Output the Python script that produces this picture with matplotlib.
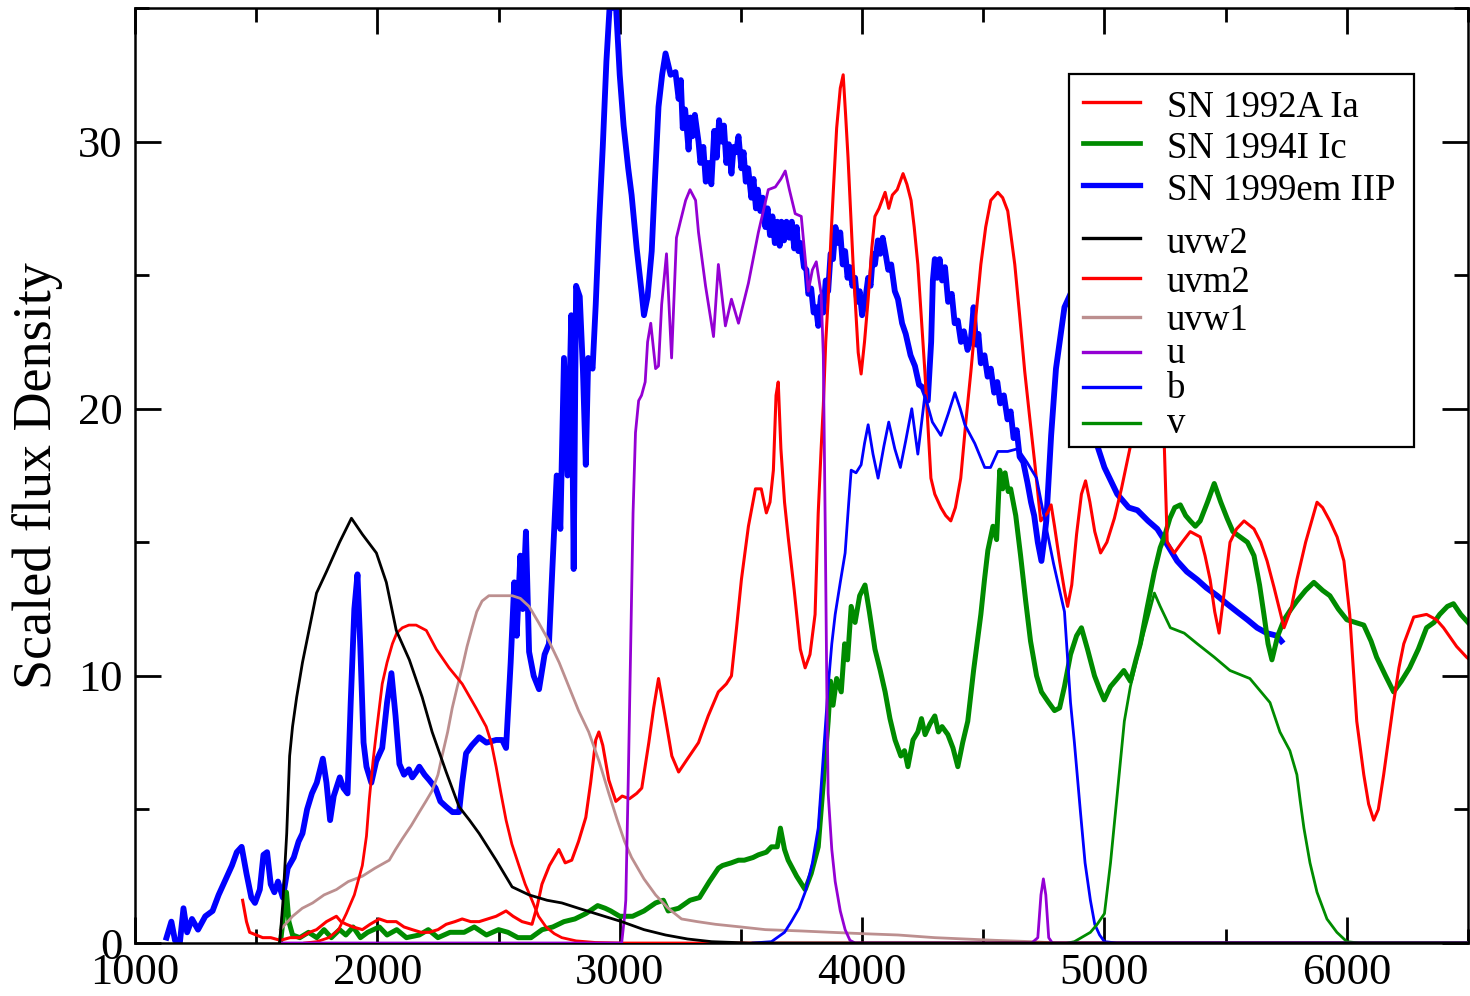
import matplotlib
matplotlib.use("Agg")
import matplotlib.pyplot as plt
from matplotlib.patches import Rectangle
from matplotlib.lines import Line2D

plt.rcParams['font.family'] = ['Liberation Serif', 'DejaVu Serif']

# ---------------- spectra (wavelength in Angstrom, scaled flux) ----------------
sn92a_wave = [1444, 1460, 1473, 1500, 1527, 1560, 1600, 1640, 1680, 1720, 1749, 1790, 1831, 1850, 1872,
              1900, 1938, 1970, 2008, 2040, 2078, 2110, 2144, 2180, 2214, 2250, 2284, 2320, 2350, 2385,
              2420, 2455, 2490, 2531, 2560, 2597, 2638, 2660, 2679, 2710, 2749, 2775, 2802, 2830, 2860,
              2880, 2901, 2914, 2930, 2955, 2984, 3010, 3040, 3070, 3091, 3120, 3140, 3160, 3185, 3215,
              3243, 3280, 3325, 3365, 3407, 3440, 3461, 3482, 3502, 3531, 3560, 3584, 3605, 3620, 3634,
              3645, 3654, 3665, 3680, 3695, 3720, 3745, 3765, 3785, 3806, 3819, 3831, 3840, 3850, 3860,
              3872, 3881, 3895, 3910, 3922, 3932, 3942, 3963, 3984, 3996, 4010, 4025, 4040, 4053, 4070,
              4095, 4110, 4125, 4145, 4169, 4185, 4202, 4215, 4230, 4259, 4284, 4300, 4325, 4345, 4366,
              4385, 4407, 4428, 4449, 4470, 4490, 4510, 4531, 4560, 4580, 4601, 4630, 4650, 4671, 4690,
              4712, 4737, 4765, 4780, 4794, 4815, 4835, 4848, 4865, 4885, 4905, 4922, 4940, 4960, 4984,
              5010, 5041, 5070, 5107, 5140, 5180, 5220, 5247, 5259, 5288, 5320, 5354, 5395, 5415, 5436,
              5455, 5473, 5495, 5518, 5545, 5576, 5617, 5645, 5671, 5700, 5741, 5770, 5794, 5830, 5877,
              5900, 5930, 5960, 5988, 6012, 6025, 6041, 6070, 6090, 6111, 6130, 6152, 6175, 6193, 6215,
              6235, 6276, 6329, 6370, 6399, 6430, 6453, 6494, 6520]
sn92a_flux = [1.6, 0.8, 0.4, 0.3, 0.2, 0.2, 0.1, 0.2, 0.2, 0.4, 0.5, 0.8, 1.0, 0.8, 0.7,
              0.6, 0.5, 0.7, 0.9, 0.8, 0.8, 0.6, 0.5, 0.4, 0.4, 0.5, 0.7, 0.8, 0.9, 0.8,
              0.8, 0.9, 1.0, 1.2, 1.0, 0.8, 0.7, 1.4, 2.2, 2.9, 3.5, 3.0, 3.1, 3.8, 4.7,
              6.0, 7.6, 7.9, 7.4, 6.1, 5.3, 5.5, 5.4, 5.6, 5.8, 7.5, 8.8, 9.9, 8.6, 7.0,
              6.4, 6.9, 7.5, 8.5, 9.4, 9.7, 10.0, 11.8, 13.6, 15.6, 17.0, 17.0, 16.1, 16.5, 17.7,
              20.5, 21.0, 18.5, 16.5, 15.2, 13.2, 11.0, 10.3, 10.8, 12.3, 16.1, 18.5, 20.1, 22.5, 24.1,
              26.5, 28.1, 30.5, 32.0, 32.5, 31.0, 29.4, 25.4, 22.1, 21.3, 22.5, 24.1, 26.0, 27.2, 27.5,
              28.1, 27.5, 28.0, 28.2, 28.8, 28.4, 27.8, 26.8, 25.4, 21.4, 17.4, 16.8, 16.3, 16.0, 15.8,
              16.3, 17.4, 19.5, 21.4, 23.5, 25.4, 26.8, 27.8, 28.1, 27.9, 27.4, 25.4, 23.5, 21.4, 19.8,
              18.0, 15.8, 16.1, 16.4, 15.6, 14.3, 13.2, 12.6, 13.4, 15.3, 16.8, 17.3, 16.5, 15.4, 14.6,
              15.0, 15.9, 17.0, 18.6, 20.0, 20.5, 20.0, 18.6, 15.0, 14.6, 15.0, 15.4, 15.2, 14.5, 13.6,
              12.4, 11.6, 13.2, 15.0, 15.5, 15.8, 15.5, 15.0, 14.3, 13.3, 11.8, 12.5, 13.6, 15.0, 16.5,
              16.3, 15.8, 15.2, 14.3, 12.3, 10.5, 8.3, 6.3, 5.2, 4.6, 5.0, 6.3, 7.8, 9.0, 10.3,
              11.2, 12.2, 12.3, 12.1, 11.8, 11.4, 11.1, 10.7, 10.5]

sn94i_wave = [1600, 1615, 1625, 1635, 1650, 1680, 1716, 1750, 1780, 1810, 1844, 1870, 1900, 1930, 1960,
              2008, 2040, 2080, 2120, 2173, 2210, 2250, 2300, 2358, 2400, 2450, 2500, 2539, 2580, 2634,
              2680, 2724, 2770, 2815, 2860, 2909, 2940, 2963, 3000, 3053, 3100, 3148, 3180, 3200, 3243,
              3290, 3329, 3370, 3407, 3424, 3460, 3490, 3514, 3550, 3572, 3605, 3626, 3650, 3663, 3680,
              3695, 3730, 3765, 3790, 3819, 3840, 3860, 3870, 3880, 3895, 3914, 3928, 3940, 3955, 3971,
              3990, 4012, 4030, 4053, 4075, 4095, 4115, 4136, 4160, 4175, 4189, 4210, 4230, 4245, 4260,
              4280, 4300, 4315, 4330, 4354, 4375, 4395, 4415, 4436, 4460, 4490, 4505, 4519, 4540, 4555,
              4568, 4580, 4590, 4603, 4613, 4634, 4654, 4675, 4695, 4720, 4740, 4770, 4794,
              4815, 4835, 4860, 4885, 4905, 4930, 4959, 4980, 4999, 5025, 5053, 5080, 5107, 5130, 5148,
              5175, 5206, 5230, 5247, 5270, 5290, 5313, 5335, 5354, 5375, 5395, 5425, 5453, 5480, 5506,
              5530, 5560, 5590, 5617, 5640, 5658, 5675, 5691, 5715, 5741, 5770, 5794, 5830, 5864, 5900,
              5930, 5965, 6000, 6035, 6070, 6100, 6123, 6160, 6193, 6225, 6259, 6295, 6329, 6360, 6383,
              6415, 6440, 6470, 6500]
sn94i_flux = [0.0, 1.2, 1.9, 0.8, 0.3, 0.2, 0.4, 0.2, 0.5, 0.2, 0.5, 0.3, 0.6, 0.2, 0.4,
              0.6, 0.3, 0.5, 0.2, 0.3, 0.5, 0.2, 0.4, 0.4, 0.6, 0.3, 0.5, 0.4, 0.2, 0.2,
              0.5, 0.6, 0.8, 0.9, 1.1, 1.4, 1.3, 1.2, 1.0, 1.0, 1.2, 1.5, 1.6, 1.2, 1.3,
              1.6, 1.7, 2.3, 2.8, 2.9, 3.0, 3.1, 3.1, 3.2, 3.3, 3.4, 3.6, 3.6, 4.3, 3.5,
              3.1, 2.5, 2.0, 2.6, 3.6, 6.0, 8.3, 9.8, 8.9, 9.9, 9.4, 11.2, 10.6, 12.6, 12.0,
              13.0, 13.4, 12.4, 11.0, 10.2, 9.4, 8.4, 7.6, 7.0, 7.2, 6.6, 7.6, 7.9, 8.4, 7.8,
              8.2, 8.5, 7.9, 8.1, 7.8, 7.3, 6.6, 7.5, 8.3, 10.2, 12.3, 13.6, 14.7, 15.6, 15.1,
              17.7, 17.0, 17.6, 16.9, 17.0, 16.0, 14.5, 12.8, 11.3, 10.0, 9.4, 9.0, 8.7,
              8.8, 9.6, 10.8, 11.5, 11.8, 11.0, 10.0, 9.5, 9.1, 9.6, 9.9, 10.2, 9.8, 10.6, 11.2,
              12.5, 13.9, 14.8, 15.2, 15.9, 16.3, 16.4, 16.0, 15.8, 15.6, 15.8, 16.5, 17.2, 16.5, 15.9,
              15.4, 15.2, 15.0, 14.5, 13.4, 12.3, 11.2, 10.6, 11.5, 12.1, 12.5, 12.8, 13.2, 13.5, 13.2,
              13.0, 12.5, 12.1, 12.0, 11.9, 11.3, 10.7, 10.0, 9.4, 9.8, 10.3, 11.0, 11.8, 12.0, 12.3,
              12.6, 12.7, 12.3, 12.0]

sn99em_wave = [1130, 1150, 1165, 1185, 1200, 1215, 1235, 1260, 1290, 1320, 1345, 1370, 1400, 1420, 1440,
               1460, 1480, 1495, 1515, 1530, 1545, 1560, 1575, 1590, 1610, 1630, 1655, 1675, 1691, 1710,
               1730, 1750, 1775, 1790, 1805, 1820, 1845, 1860, 1877, 1890, 1905, 1918, 1930, 1943, 1955,
               1975, 1995, 2020, 2040, 2058, 2075, 2091, 2110, 2130, 2144, 2160, 2173, 2195, 2214, 2240,
               2260, 2284, 2310, 2337, 2350, 2366, 2390, 2420, 2450, 2490, 2515, 2531, 2550, 2565, 2575,
               2590, 2600, 2613, 2626, 2645, 2667, 2690, 2708, 2722, 2740, 2755, 2770, 2785, 2800, 2810,
               2820, 2835, 2848, 2860, 2870, 2888, 2901, 2915, 2930, 2945, 2958, 2985, 3000, 3016, 3035,
               3049, 3070, 3091, 3100, 3115, 3132, 3145, 3160, 3175, 3189, 3210, 3230,
               3243, 3252, 3260, 3270, 3284, 3292, 3300, 3310, 3325, 3333, 3345, 3355, 3366, 3378, 3390,
               3400, 3410, 3420, 3430, 3440, 3450, 3461, 3470, 3480, 3490, 3502, 3511, 3520, 3530, 3543,
               3552, 3562, 3570, 3580, 3590, 3601, 3610, 3620, 3630, 3640, 3650, 3660, 3667, 3678, 3688,
               3700, 3710, 3720, 3730, 3737, 3748, 3760, 3770, 3778, 3790, 3800, 3810, 3819, 3830, 3840,
               3850, 3860, 3870, 3880, 3890, 3901, 3910, 3920, 3930, 3940, 3950, 3960, 3971, 3980, 3990,
               4000, 4012, 4025, 4035, 4045, 4053, 4065, 4075, 4085, 4095, 4108, 4120, 4135, 4148, 4165,
               4180, 4200, 4218, 4235, 4250, 4271, 4285, 4292, 4300, 4310, 4320, 4330, 4342, 4355, 4370,
               4382, 4395, 4408, 4420, 4435, 4449, 4460, 4470, 4480, 4490, 4505, 4518, 4531, 4545, 4558,
               4570, 4585, 4600, 4613, 4625, 4638, 4650, 4665, 4683, 4697, 4710, 4725, 4740, 4750, 4760,
               4780, 4800, 4835, 4870, 4910, 4945, 4971, 5000, 5053, 5100, 5136, 5180, 5218, 5260, 5300,
               5340, 5383, 5420, 5465, 5505, 5547, 5590, 5630, 5670, 5712, 5730]
sn99em_flux = [0.2, 0.8, 0.1, 0.0, 1.3, 0.4, 0.9, 0.5, 1.0, 1.2, 1.8, 2.3, 2.9, 3.4, 3.6,
               2.6, 1.7, 1.5, 2.0, 3.3, 3.4, 2.2, 1.9, 2.3, 1.7, 2.8, 3.2, 3.8, 4.1, 5.0,
               5.6, 6.0, 6.9, 6.0, 4.6, 5.5, 6.2, 5.8, 5.6, 9.0, 12.5, 13.8, 11.0, 7.5, 6.6,
               6.0, 6.8, 7.3, 9.0, 10.1, 8.5, 6.7, 6.3, 6.5, 6.2, 6.4, 6.6, 6.3, 6.1, 5.8,
               5.3, 5.1, 4.9, 4.9, 6.0, 7.1, 7.4, 7.7, 7.5, 7.6, 7.6, 7.3, 10.5, 13.5, 11.5,
               14.5, 12.5, 15.4, 10.9, 10.0, 9.5, 10.8, 11.2, 14.0, 17.5, 15.5, 21.9, 17.5, 23.5, 14.0,
               24.6, 24.2, 21.5, 17.9, 21.9, 21.5, 23.9, 27.0, 29.8, 33.0, 35.0, 35.0, 32.5, 30.6, 29.0,
               28.0, 26.0, 24.3, 23.5, 24.2, 25.9, 28.5, 31.3, 32.5, 33.3, 32.5, 32.6,
               31.6, 32.3, 30.5, 31.2, 29.7, 30.9, 30.2, 31.0, 30.0, 29.2, 29.8, 28.5, 29.2, 28.4, 30.4,
               29.4, 30.8, 30.0, 30.6, 29.2, 29.9, 28.8, 29.8, 29.6, 30.2, 29.0, 29.6, 28.5, 29.0, 27.9,
               28.6, 27.5, 28.2, 27.4, 27.9, 26.8, 27.5, 26.5, 27.2, 26.2, 27.0, 26.1, 27.0, 26.3, 27.0,
               26.4, 27.0, 26.0, 26.8, 25.9, 26.2, 25.3, 25.2, 24.3, 24.5, 23.6, 23.8, 23.1, 24.2, 23.6,
               24.8, 24.4, 25.8, 25.6, 26.8, 26.2, 26.6, 25.4, 25.9, 24.9, 25.3, 24.6, 24.9, 24.0, 24.4,
               23.5, 24.0, 24.9, 24.6, 25.8, 25.4, 26.3, 25.8, 26.4, 25.9, 25.2, 25.4, 24.4, 24.1, 23.2,
               22.8, 22.0, 21.6, 20.9, 20.8, 20.3, 22.5, 24.8, 25.6, 24.9, 25.6, 24.8, 25.3, 24.0, 24.3,
               23.2, 23.3, 22.5, 22.9, 22.2, 22.6, 23.8, 22.4, 22.8, 21.7, 22.0, 21.2, 21.5, 20.6, 21.0,
               20.2, 20.5, 19.6, 19.9, 18.9, 19.2, 18.2, 18.0, 17.2, 16.5, 16.0, 15.0, 14.3, 15.0, 15.8,
               19.0, 21.5, 23.8, 24.5, 22.0, 19.8, 18.6, 17.8, 16.8, 16.3, 16.2, 15.8, 15.5, 14.9, 14.3,
               13.9, 13.6, 13.3, 13.0, 12.7, 12.4, 12.1, 11.8, 11.6, 11.5, 11.3]

# ---------------- UVOT / optical filter curves ----------------
uvw2_wave = [1597, 1610, 1626, 1638, 1650, 1667, 1691, 1720, 1749, 1790, 1844, 1893, 1938, 1996, 2037,
             2078, 2132, 2185, 2226, 2284, 2337, 2380, 2420, 2490, 2556, 2626, 2700, 2761, 2830, 2901,
             3008, 3100, 3189, 3280, 3379, 3531, 6600]
uvw2_resp = [0.0, 1.5, 4.1, 7.0, 8.1, 9.2, 10.5, 11.8, 13.1, 13.9, 15.0, 15.9, 15.3, 14.6, 13.5,
             11.7, 10.6, 9.2, 7.9, 6.4, 5.1, 4.6, 4.1, 3.1, 2.1, 1.8, 1.6, 1.5, 1.3, 1.1,
             0.8, 0.5, 0.3, 0.15, 0.05, 0.0, 0.0]

uvm2_wave = [1700, 1750, 1800, 1840, 1872, 1905, 1938, 1955, 1967, 1982, 1996, 2008, 2020, 2040, 2062,
             2080, 2103, 2130, 2160, 2202, 2243, 2296, 2350, 2407, 2449, 2470, 2490, 2510, 2531, 2555,
             2584, 2610, 2638, 2665, 2696, 2730, 2761, 2820, 2900, 3000, 6600]
uvm2_resp = [0.0, 0.05, 0.2, 0.5, 1.1, 1.8, 2.9, 4.0, 5.4, 6.8, 7.9, 8.8, 9.7, 10.5, 11.2,
             11.6, 11.8, 11.9, 11.9, 11.7, 11.0, 10.3, 9.7, 8.8, 8.1, 7.5, 6.6, 5.6, 4.6, 3.7,
             2.9, 2.2, 1.6, 1.0, 0.6, 0.35, 0.2, 0.08, 0.02, 0.0, 0.0]

uvw1_wave = [1600, 1620, 1650, 1690, 1733, 1780, 1831, 1880, 1938, 1990, 2049, 2075, 2103, 2140, 2173,
             2200, 2226, 2250, 2267, 2290, 2309, 2330, 2350, 2370, 2391, 2410, 2432, 2460, 2490, 2520,
             2556, 2590, 2626, 2665, 2708, 2750, 2790, 2830, 2872, 2915, 2955, 2990, 3020, 3049, 3100,
             3148, 3200, 3255, 3320, 3395, 3500, 3601, 3750, 3872, 4000, 4148, 4300, 4424, 4550, 4700,
             4800, 6600]
uvw1_resp = [0.5, 0.7, 1.0, 1.3, 1.5, 1.8, 2.0, 2.3, 2.5, 2.8, 3.1, 3.5, 3.9, 4.4, 4.9,
             5.3, 5.7, 6.3, 7.0, 7.9, 8.8, 9.6, 10.3, 11.1, 11.8, 12.4, 12.8, 13.0, 13.0, 13.0,
             13.0, 12.9, 12.6, 12.0, 11.3, 10.5, 9.6, 8.7, 7.9, 6.8, 5.6, 4.6, 3.8, 3.2, 2.4,
             1.8, 1.3, 0.9, 0.8, 0.7, 0.6, 0.5, 0.45, 0.4, 0.35, 0.3, 0.2, 0.15, 0.1, 0.05,
             0.0, 0.0]

u_wave = [1600, 3008, 3020, 3025, 3035, 3045, 3055, 3065, 3078, 3090, 3105, 3115, 3128, 3148, 3160,
          3173, 3193, 3214, 3234, 3250, 3272, 3290, 3313, 3325, 3354, 3387, 3407, 3436, 3461, 3490,
          3531, 3572, 3613, 3642, 3665, 3683, 3700, 3724, 3749, 3778, 3795, 3811, 3831, 3840, 3848,
          3855, 3860, 3875, 3889, 3910, 3930, 3950, 3971, 4700, 4725, 4738, 4748, 4758, 4770, 4785,
          6600]
u_resp = [0.0, 0.0, 1.0, 1.6, 6.0, 11.0, 16.1, 19.1, 20.3, 20.5, 21.0, 22.5, 23.2, 21.5, 21.6,
          23.9, 25.8, 21.9, 26.4, 27.0, 27.8, 28.2, 27.8, 26.6, 24.6, 22.7, 25.4, 23.1, 24.1, 23.2,
          24.7, 26.6, 28.2, 28.3, 28.6, 28.9, 28.2, 27.3, 27.2, 24.4, 25.2, 25.5, 24.3, 22.0, 15.5,
          9.0, 5.6, 3.5, 2.3, 1.2, 0.5, 0.1, 0.0, 0.0, 0.2, 1.8, 2.4, 1.8, 0.2, 0.0,
          0.0]

b_wave = [3550, 3626, 3680, 3708, 3740, 3765, 3795, 3819, 3840, 3860, 3875, 3889, 3910, 3930, 3945,
          3955, 3975, 3996, 4010, 4025, 4045, 4066, 4090, 4110, 4135, 4158, 4180, 4205, 4230, 4259,
          4290, 4325, 4355, 4383, 4405, 4424, 4465, 4506, 4530, 4560, 4601, 4642, 4680, 4720, 4750,
          4790, 4835, 4860, 4876, 4901, 4920, 4942, 4960, 4980, 5000, 5050, 6600]
b_resp = [0.0, 0.05, 0.4, 0.8, 1.3, 1.9, 3.0, 4.3, 7.0, 9.6, 11.2, 12.3, 13.5, 14.6, 16.5,
          17.7, 17.6, 17.9, 18.7, 19.4, 18.3, 17.4, 18.6, 19.5, 18.5, 17.8, 18.8, 20.0, 18.3, 20.5,
          19.5, 19.0, 19.8, 20.6, 20.0, 19.4, 18.7, 17.8, 17.8, 18.4, 18.4, 18.5, 18.0, 17.4, 16.0,
          14.2, 12.4, 9.0, 7.5, 4.9, 3.0, 1.6, 0.7, 0.3, 0.05, 0.0, 0.0]

v_wave = [4850, 4876, 4942, 4970, 5000, 5025, 5053, 5082, 5107, 5136, 5177, 5206, 5230, 5272, 5329,
          5383, 5453, 5518, 5600, 5683, 5724, 5765, 5794, 5808, 5823, 5848, 5877, 5918, 5959, 6000,
          6050, 6600]
v_resp = [0.0, 0.05, 0.4, 0.7, 1.1, 3.0, 5.6, 8.3, 9.6, 10.7, 12.1, 13.1, 12.6, 11.8, 11.6,
          11.2, 10.7, 10.2, 9.9, 9.0, 7.9, 7.2, 6.3, 5.3, 4.3, 3.0, 1.9, 0.9, 0.4, 0.05,
          0.0, 0.0]

# colours (xmgrace palette)
RED = '#ff0000'
GREEN = '#008b00'
BLUE = '#0000ff'
BROWN = '#bc8f8f'
VIOLET = '#9400d3'

spectra = [
    ('SN 1999em IIP', sn99em_wave, sn99em_flux, BLUE, 4.2),
    ('SN 1994I Ic', sn94i_wave, sn94i_flux, GREEN, 3.6),
    ('SN 1992A Ia', sn92a_wave, sn92a_flux, RED, 2.2),
]
filters = [
    ('uvw1', uvw1_wave, uvw1_resp, BROWN),
    ('uvm2', uvm2_wave, uvm2_resp, RED),
    ('b', b_wave, b_resp, BLUE),
    ('v', v_wave, v_resp, GREEN),
    ('u', u_wave, u_resp, VIOLET),
    ('uvw2', uvw2_wave, uvw2_resp, 'black'),
]

W, H = 1470, 996
fig = plt.figure(figsize=(W / 100, H / 100), dpi=100)
L, R, T, B = 135, 1468, 8, 943
ax = fig.add_axes([L / W, (H - B) / H, (R - L) / W, (B - T) / H])

for name, x, y, c, lw in spectra:
    ax.plot(x, y, color=c, lw=lw, zorder=2)
for name, x, y, c in filters:
    ax.plot(x, y, color=c, lw=2.0, zorder=3)

ax.set_xlim(1000, 6500)
ax.set_ylim(0, 35)
ax.set_xticks([1000, 2000, 3000, 4000, 5000, 6000])
ax.set_xticks([1500, 2500, 3500, 4500, 5500, 6500], minor=True)
ax.set_yticks([0, 10, 20, 30])
ax.set_yticks([5, 15, 25, 35], minor=True)
ax.tick_params(which='both', direction='in', top=True, right=True, width=2.0, labelsize=32)
ax.tick_params(which='major', length=19)
ax.tick_params(axis='x', which='major', pad=7)
ax.tick_params(axis='y', which='major', pad=9)
ax.tick_params(which='minor', length=10)
for s in ax.spines.values():
    s.set_linewidth(1.8)

ax.set_ylabel('Scaled flux Density', fontsize=39)
ax.yaxis.set_label_coords((63 - L) / (R - L), 0.5)


# legend box drawn in pixel positions converted to axes fractions
def fx(px):
    return (px - L) / (R - L)


def fy(py):
    return (B - py) / (B - T)


ax.add_patch(Rectangle((fx(1069), fy(447)), fx(1414) - fx(1069), fy(74) - fy(447),
                       transform=ax.transAxes, facecolor='white', edgecolor='black',
                       lw=1.6, zorder=10))
legend_rows = [
    ('SN 1992A Ia', RED, 2.4, 102, 117),
    ('SN 1994I Ic', GREEN, 3.4, 143, 158),
    ('SN 1999em IIP', BLUE, 3.8, 185, 200),
    ('uvw2', 'black', 2.4, 238, 253),
    ('uvm2', RED, 2.4, 278, 292),
    ('uvw1', BROWN, 2.4, 317, 330),
    ('u', VIOLET, 2.4, 352, 363),
    ('b', BLUE, 2.4, 387, 398),
    ('v', GREEN, 2.4, 423, 433),
]
for label, c, lw, ly, by in legend_rows:
    ax.add_line(Line2D([fx(1083), fx(1140)], [fy(ly), fy(ly)], transform=ax.transAxes,
                       color=c, lw=lw, zorder=11))
    ax.text(fx(1167), fy(by), label, transform=ax.transAxes, fontsize=26.5,
            va='baseline', ha='left', zorder=11)

fig.savefig('out.png', dpi=100)
